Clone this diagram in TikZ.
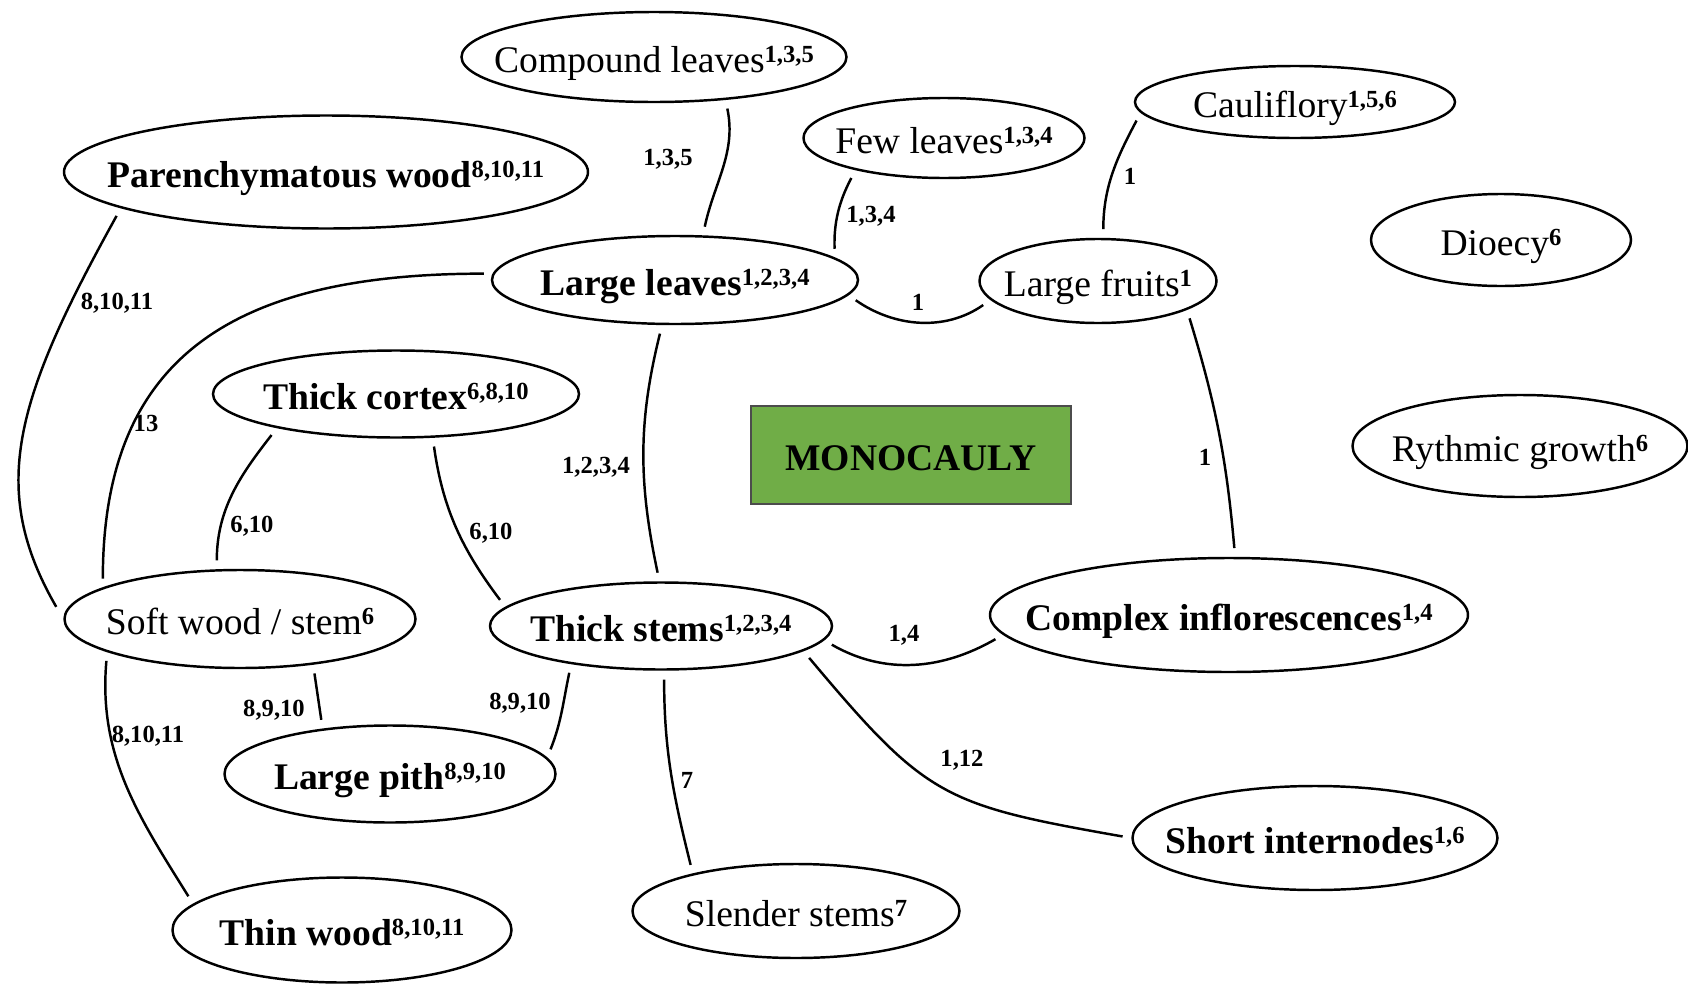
\documentclass[tikz,border=0pt]{standalone}
\usepackage{fontspec}
\setmainfont{Liberation Serif}
\usetikzlibrary{shapes.geometric}
\definecolor{leafgreen}{RGB}{112,173,71}
\newcommand{\refs}[1]{\raisebox{2.8pt}{\fontsize{7}{8}\selectfont\bfseries #1}}

\begin{document}
\begin{tikzpicture}[
		oval/.style={ellipse, draw, line width=0.7pt, inner sep=-1cm, text height=8.8pt, text depth=0pt},
		link/.style={line width=0.7pt, shorten <=2.5pt, shorten >=2.5pt},
		num/.style={font=\fontsize{7}{8}\selectfont\bfseries},
		font=\fontsize{10.7}{12}\selectfont]
		\useasboundingbox (0,0) rectangle (16.88,9.83);
		% Centre
		\node[draw=black!70, fill=leafgreen, line width=0.7pt, minimum width=3.2cm, minimum height=0.98cm, text height=8.8pt, text depth=0pt] (mono) at (9.11,5.28) {\textbf{MONOCAULY}};
		% Traits
		\node[oval, minimum width=3.85cm, minimum height=0.90cm] (comp) at (6.54,9.26) {Compound leaves\refs{1,3,5}};
		\node[oval, minimum width=5.24cm, minimum height=1.13cm] (paren) at (3.26,8.11) {\textbf{Parenchymatous wood}\refs{8,10,11}};
		\node[oval, minimum width=2.81cm, minimum height=0.80cm] (few) at (9.44,8.45) {Few leaves\refs{1,3,4}};
		\node[oval, minimum width=3.20cm, minimum height=0.72cm] (caul) at (12.95,8.81) {Cauliflory\refs{1,5,6}};
		\node[oval, minimum width=2.60cm, minimum height=0.92cm] (dio) at (15.01,7.43) {Dioecy\refs{6}};
		\node[oval, minimum width=3.66cm, minimum height=0.88cm] (lleaves) at (6.75,7.03) {\textbf{Large leaves}\refs{1,2,3,4}};
		\node[oval, minimum width=2.37cm, minimum height=0.84cm] (lfruits) at (10.98,7.02) {Large fruits\refs{1}};
		\node[oval, minimum width=3.66cm, minimum height=0.87cm] (cortex) at (3.96,5.89) {\textbf{Thick cortex}\refs{6,8,10}};
		\node[oval, minimum width=3.35cm, minimum height=1.02cm] (rythm) at (15.20,5.37) {Rythmic growth\refs{6}};
		\node[oval, minimum width=3.51cm, minimum height=0.98cm] (soft) at (2.40,3.64) {Soft wood / stem\refs{6}};
		\node[oval, minimum width=3.42cm, minimum height=0.87cm] (tstems) at (6.61,3.57) {\textbf{Thick stems}\refs{1,2,3,4}};
		\node[oval, minimum width=4.78cm, minimum height=1.14cm] (complex) at (12.29,3.68) {\textbf{Complex inflorescences}\refs{1,4}};
		\node[oval, minimum width=3.31cm, minimum height=0.97cm] (lpith) at (3.90,2.09) {\textbf{Large pith}\refs{8,9,10}};
		\node[oval, minimum width=3.65cm, minimum height=1.04cm] (short) at (13.15,1.45) {\textbf{Short internodes}\refs{1,6}};
		\node[oval, minimum width=3.27cm, minimum height=0.94cm] (slender) at (7.96,0.72) {Slender stems\refs{7}};
		\node[oval, minimum width=3.39cm, minimum height=1.05cm] (thinw) at (3.42,0.53) {\textbf{Thin wood}\refs{8,10,11}};
		% Links
		\draw[link] (comp.-31) to[out=-78, in=78] (lleaves.58);
		\draw[link] (few.-160.5) to[out=-118, in=92] (lleaves.8);
		\draw[link] (caul.-176) to[out=-118, in=90] (lfruits.83);
		\draw[link] (lleaves.-5) to[out=-35, in=-145] (lfruits.-170);
		\draw[link] (lfruits.-18) to[out=-73, in=95] (complex.84);
		\draw[link] (lleaves.-106.5) to[out=-104, in=102] (tstems.92.6);
		\draw[link] (lleaves.178) .. controls +(180:2.6) and +(90:2.3) .. (soft.167.4);
		\draw[link, shorten >=4pt] (paren.-170) .. controls +(-119:2.2) and +(120:1.5) .. (soft.west);
		\draw[link] (cortex.-164) to[out=-128, in=90] (soft.115.3);
		\draw[link] (cortex.-50.7) to[out=-82, in=127] (tstems.173.7);
		\draw[link] (tstems.-5) to[out=-30, in=-150] (complex.-175);
		\draw[link] (tstems.-10) to[out=-50, in=170, looseness=1.3] (short.west);
		\draw[link] (tstems.-86) to[out=-90, in=104] (slender.160.5);
		\draw[link] (tstems.-157.4) to[out=-102, in=68] (lpith.6.3);
		\draw[link] (soft.-32.7) -- (lpith.146);
		\draw[link] (soft.-166.2) to[out=-95, in=122] (thinw.170.2);
		% Sources
		\node[num] (n1) at (6.68,8.24) {1,3,5};
		\node[num] (n2) at (8.71,7.67) {1,3,4};
		\node[num] (n3) at (11.30,8.07) {1};
		\node[num] (n4) at (9.18,6.81) {1};
		\node[num] (n5) at (12.05,5.26) {1};
		\node[num] (n6) at (5.96,5.16) {1,2,3,4};
		\node[num] (n7) at (1.46,5.60) {13};
		\node[num] (n8) at (1.17,6.80) {8,10,11};
		\node[num] (n9) at (2.52,4.57) {6,10};
		\node[num] (n10) at (4.91,4.50) {6,10};
		\node[num] (n11) at (9.04,3.48) {1,4};
		\node[num] (n12) at (9.62,2.23) {1,12};
		\node[num] (n13) at (6.87,2.03) {7};
		\node[num] (n14) at (5.20,2.80) {8,9,10};
		\node[num] (n15) at (2.74,2.73) {8,9,10};
		\node[num] (n16) at (1.48,2.47) {8,10,11};
	\end{tikzpicture}
\end{document}
